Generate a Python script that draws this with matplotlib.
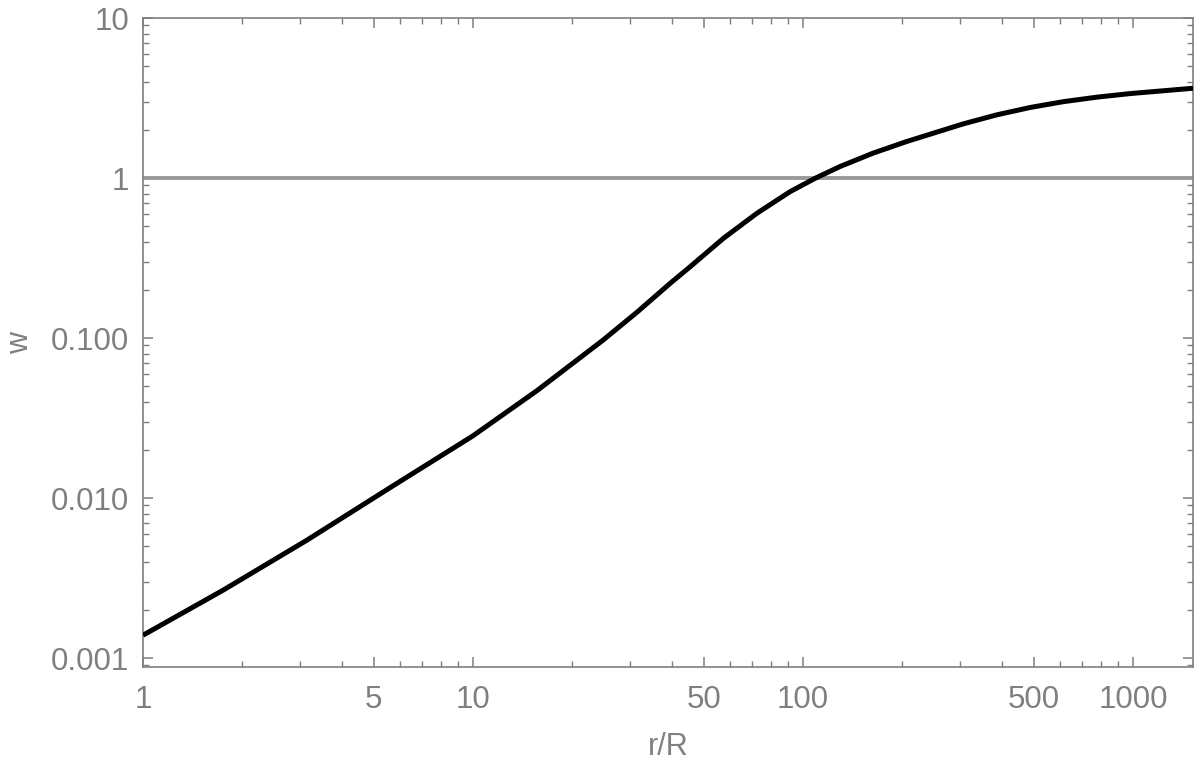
import matplotlib

matplotlib.use("Agg")
import matplotlib.pyplot as plt
from matplotlib.ticker import FixedLocator, FixedFormatter, NullFormatter

# values
r_over_R = [1, 1.75, 3.14, 5.6, 10, 15.6, 24.8, 31.4, 39.5, 45.5, 57.4, 72.4,
            91.3, 108.7, 129.5, 163, 206, 243, 306, 386, 488, 615, 776, 979,
            1236, 1520]
w = [0.00139, 0.00266, 0.00546, 0.0116, 0.0245, 0.0468, 0.0972, 0.145, 0.219,
     0.279, 0.420, 0.601, 0.821, 0.995, 1.18, 1.43, 1.69, 1.88, 2.18, 2.48,
     2.76, 3.00, 3.20, 3.37, 3.51, 3.64]
ref_level = 1.0

x_major = [1, 5, 10, 50, 100, 500, 1000]
x_major_labels = ["1", "5", "10", "50", "100", "500", "1000"]
y_major = [0.001, 0.01, 0.1, 1, 10]
y_major_labels = ["0.001", "0.010", "0.100", "1", "10"]

GREY = "#7f7f7f"
plt.rcParams["font.family"] = ["Liberation Sans", "DejaVu Sans"]

fig = plt.figure(figsize=(12, 7.7), dpi=100)
ax = fig.add_axes([143 / 1200, 1 - 667 / 770, 1050 / 1200, 649 / 770])

ax.axhline(ref_level, color="#999999", lw=2.8, zorder=2)
ax.plot(r_over_R, w, color="black", lw=3.6, solid_capstyle="butt",
        solid_joinstyle="round", zorder=3)

ax.set_xscale("log")
ax.set_yscale("log")
ax.set_xlim(1, 1520)
ax.set_ylim(0.00088, 10)

# Mathematica-like ticks
x_minor = [m * d for d in (1, 10, 100, 1000) for m in range(2, 10)
           if m * d not in x_major and m * d <= 1520]
y_minor = [m * d for d in (0.0001, 0.001, 0.01, 0.1, 1) for m in range(2, 10)
           if 0.00088 <= m * d <= 10 and round(m * d, 6) not in y_major]
ax.xaxis.set_major_locator(FixedLocator(x_major))
ax.xaxis.set_major_formatter(FixedFormatter(x_major_labels))
ax.xaxis.set_minor_locator(FixedLocator(x_minor))
ax.xaxis.set_minor_formatter(NullFormatter())
ax.yaxis.set_major_locator(FixedLocator(y_major))
ax.yaxis.set_major_formatter(FixedFormatter(y_major_labels))
ax.yaxis.set_minor_locator(FixedLocator(y_minor))
ax.yaxis.set_minor_formatter(NullFormatter())

ax.tick_params(which="both", direction="in", top=True, right=True,
               color=GREY, labelcolor=GREY, labelsize=22.5)
ax.tick_params(which="major", length=7, width=1.1)
ax.tick_params(which="minor", length=4.5, width=1.0)
ax.tick_params(axis="x", which="major", pad=13)
ax.tick_params(axis="y", which="major", pad=10)

for s in ax.spines.values():
    s.set_color(GREY)
    s.set_linewidth(1.2)

ax.set_xlabel("r/R", fontsize=22, color=GREY)
ax.set_ylabel("w", fontsize=22, color=GREY)
ax.xaxis.set_label_coords(0.5, -0.100)
ax.yaxis.set_label_coords(-0.103, 0.5)

fig.savefig("out.png", dpi=100)
